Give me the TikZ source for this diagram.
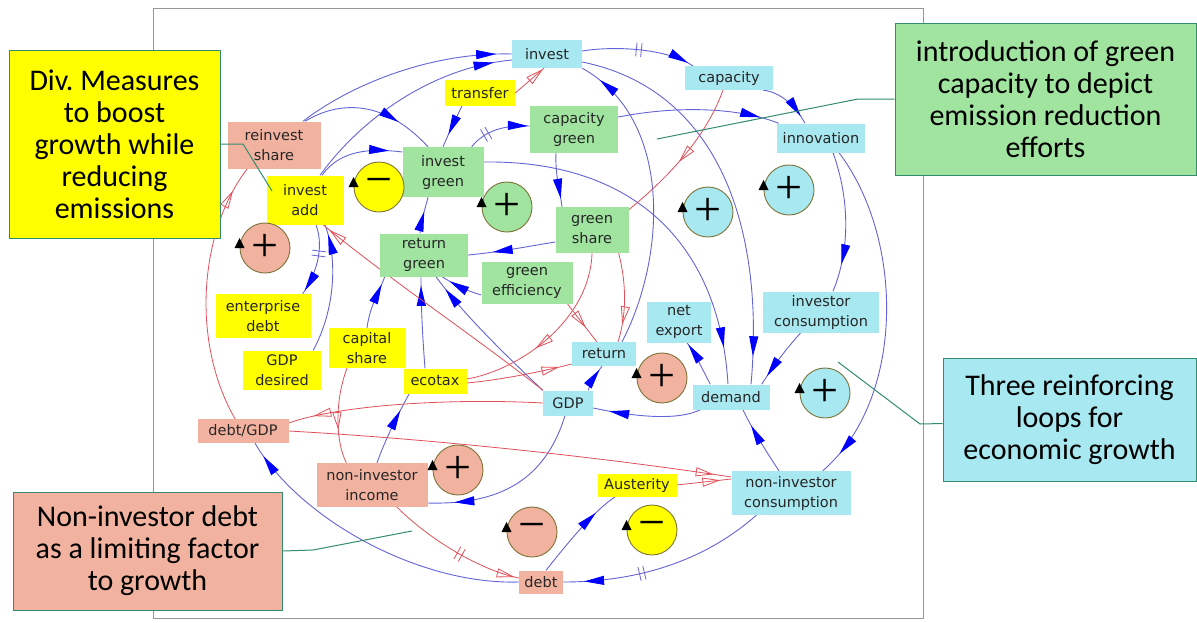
\documentclass[tikz,border=0pt]{standalone}
\usepackage{fontspec}
\usetikzlibrary{arrows.meta,decorations.markings,calc}
\newfontfamily\labfont{DejaVu Sans}
\newfontfamily\calfont{Carlito}
\newfontfamily\sgnfont{Liberation Serif}
\definecolor{ccyan}{RGB}{168,232,240}
\definecolor{cgreen}{RGB}{160,228,160}
\definecolor{csalmon}{RGB}{242,178,160}
\definecolor{cyell}{RGB}{255,255,0}
\definecolor{lblue}{RGB}{100,100,215}
\definecolor{ablue}{RGB}{0,0,255}
\definecolor{lred}{RGB}{225,80,90}
\definecolor{cteal}{RGB}{50,140,110}
\definecolor{cbord}{RGB}{125,115,55}
\definecolor{frameg}{RGB}{150,150,150}
\pgfdeclarelayer{bg}
\pgfsetlayers{bg,main}
\begin{document}
\begin{tikzpicture}[x=1pt,y=-1pt,
  box/.style={align=center, inner sep=0pt, text=black!85, font=\labfont\fontsize{14.5}{20}\selectfont},
  sz/.style 2 args={minimum width=#1pt, minimum height=#2pt},
  cy/.style={box, fill=ccyan},
  gr/.style={box, fill=cgreen},
  sa/.style={box, fill=csalmon},
  ye/.style={box, fill=cyell},
  call/.style={draw=cteal, line width=1pt, align=center, inner sep=0pt, text=black, font=\calfont\fontsize{30}{32}\selectfont},
  loopc/.style={circle, draw=cbord, line width=0.9pt, minimum size=50pt, inner sep=0pt, font=\sgnfont\fontsize{48}{48}\selectfont},
  bl/.style={draw=lblue, line width=0.9pt},
  rl/.style={draw=lred, line width=0.8pt},
  ba/.style={postaction={decorate,decoration={markings,mark=at position #1 with {\arrow[ablue]{Triangle[length=20pt,width=9pt]}}}}},
  ra/.style={postaction={decorate,decoration={markings,mark=at position #1 with {\arrow[lred,line width=0.8pt]{Triangle[open,length=18pt,width=9pt]}}}}},
  bd/.style={postaction={decorate,decoration={markings,mark=at position #1 with {\draw[lblue,line width=0.8pt] (-2.5,-7)--(-2.5,7) (2.5,-7)--(2.5,7);}}}},
  rd/.style={postaction={decorate,decoration={markings,mark=at position #1 with {\draw[lred,line width=0.8pt] (-2.5,-7)--(-2.5,7) (2.5,-7)--(2.5,7);}}}},
  conn/.style={draw=cteal, line width=1pt},
  tri/.style={fill=black}
]
\useasboundingbox (0,0) rectangle (1197,622);
\begin{pgfonlayer}{bg}
\fill[white] (0,0) rectangle (1197,622);
\draw[frameg, line width=0.8pt] (153,8) rectangle (923,618);
\end{pgfonlayer}

% variables
\node[cy,sz={70}{28}] (inv) at (547,54) {invest};
\node[cy,sz={88}{24}] (cap) at (729,78) {capacity};
\node[cy,sz={88}{29}] (inn) at (821,138) {innovation};
\node[ye,sz={70}{26}] (tr) at (480,93) {transfer};
\node[gr,sz={88}{47}] (cg) at (574,129) {capacity\\green};
\node[gr,sz={81}{50}] (ig) at (443,172) {invest\\green};
\node[sa,sz={93}{47}] (rs) at (274,145) {reinvest\\share};
\node[ye,sz={77}{49}] (ia) at (305,200) {invest\\add};
\node[gr,sz={73}{46}] (gs) at (592,230) {green\\share};
\node[gr,sz={88}{43}] (rg) at (424,255) {return\\green};
\node[gr,sz={91}{42}] (ge) at (527,283) {green\\efficiency};
\node[cy,sz={64}{24}] (ret) at (604,354) {return};
\node[cy,sz={50}{25}] (gdp) at (568,403) {GDP};
\node[ye,sz={63}{25}] (eco) at (435,381) {ecotax};
\node[ye,sz={77}{40}] (cs) at (367,348) {capital\\share};
\node[ye,sz={95}{44}] (ed) at (263,316) {enterprise\\debt};
\node[ye,sz={78}{39}] (gd) at (282,370) {GDP\\desired};
\node[cy,sz={64}{41}] (ne) at (679,322) {net\\export};
\node[cy,sz={77}{25}] (dem) at (731,397) {demand};
\node[cy,sz={116}{41}] (ic) at (821,312) {investor\\consumption};
\node[sa,sz={91}{24}] (dg) at (243,431) {debt/GDP};
\node[sa,sz={111}{44}] (nii) at (372,485) {non-investor\\income};
\node[ye,sz={79}{23}] (aus) at (637,485) {Austerity};
\node[sa,sz={44}{23}] (debt) at (541,582) {debt};
\node[cy,sz={119}{44}] (nic) at (791,493) {non-investor\\consumption};

% loop markers
\node[loopc,fill=csalmon] (L1) at (265,248) {+};
\node[loopc,fill=cyell] (L2) at (379,187) {−};
\node[loopc,fill=cgreen] (L3) at (507,207) {+};
\node[loopc,fill=ccyan] (L4) at (708,212) {+};
\node[loopc,fill=ccyan] (L5) at (789,190) {+};
\node[loopc,fill=csalmon] (L6) at (662,378) {+};
\node[loopc,fill=ccyan] (L7) at (825,393) {+};
\node[loopc,fill=csalmon] (L8) at (458,470) {+};
\node[loopc,fill=csalmon] (L9) at (532,532) {−};
\node[loopc,fill=cyell] (L10) at (652,530) {−};
\foreach \l in {L1,L2,L3,L4,L5,L6,L7,L8,L9,L10}
  \fill[tri] ($(\l.west)+(-5,0)$) -- ++(10,0) -- ++(-5,-10) -- cycle;

% connectors
\begin{pgfonlayer}{bg}
\draw[bl,ba=0.93] ($(rs.north)+(29,0)$) .. controls (350,85) and (430,52) .. (inv.west);
\draw[bl,ba=0.92] ($(ia.north)+(15,0)$) .. controls (360,120) and (430,68) .. ($(inv.west)+(0,6)$);
\draw[bl,ba=0.72] ($(rs.north)+(31,0)$) .. controls (340,100) and (385,100) .. ($(ig.north)+(-15,0)$);
\draw[bl,ba=0.85] ($(ia.north)+(17,0)$) .. controls (340,150) and (370,148) .. ($(ig.west)+(0,-20)$);
\draw[bl,ba=0.7] ($(tr.south)+(-18,0)$) .. controls (455,120) and (448,135) .. (ig.north);
\draw[bl,bd=0.5,ba=0.95] ($(inv.east)+(0,-3)$) .. controls (620,45) and (670,50) .. ($(cap.north west)+(8,0)$);
\draw[bl,bd=0.3,ba=0.97] ($(ig.north east)+(-12,0)$) .. controls (485,130) and (505,125) .. ($(cg.west)+(0,-3)$);
\draw[bl,ba=0.85] ($(cap.south east)+(-10,0)$) .. controls (780,92) and (795,105) .. ($(inn.north)+(-16,0)$);
\draw[bl,ba=0.88] ($(cg.east)+(0,-12)$) .. controls (680,105) and (740,108) .. ($(inn.north west)+(2,0)$);
\draw[bl,ba=0.85] ($(cg.south)+(-18,0)$) .. controls (555,175) and (560,190) .. ($(gs.north)+(-30,0)$);
\draw[bl,ba=0.72] ($(gs.west)+(0,12)$) .. controls (530,246) and (500,252) .. (rg.east);
\draw[bl,ba=0.8] ($(ge.west)+(0,12)$) .. controls (470,292) and (455,285) .. ($(rg.south)+(18,0)$);
\draw[bl,ba=0.9] (gdp.north west) .. controls (500,350) and (460,310) .. ($(rg.south)+(12,0)$);
\draw[bl,ba=0.9] ($(eco.north)+(-10,0)$) .. controls (422,330) and (421,300) .. ($(rg.south)+(-3,0)$);
\draw[bl,ba=0.85] (cs.north) .. controls (370,305) and (380,290) .. ($(rg.south west)+(5,0)$);
\draw[bl,ba=0.6] ($(rg.north)+(-4,0)$) .. controls (421,220) and (425,210) .. ($(ig.south)+(-15,0)$);
\draw[bl,ba=0.93] ($(ret.north)+(18,0)$) .. controls (665,260) and (675,120) .. (inv.south east);
\draw[bl,ba=0.85] ($(gdp.north east)+(-5,0)$) .. controls (592,380) .. ($(ret.south)+(-2,0)$);
\draw[bl,ba=0.85] ($(dem.south west)+(8,0)$) .. controls (680,420) and (640,418) .. ($(gdp.east)+(0,5)$);
\draw[bl,ba=0.95] ($(dem.north west)+(18,0)$) .. controls (702,368) and (694,352) .. ($(ne.south)+(8,0)$);
\draw[bl,ba=0.93] ($(inv.east)+(0,8)$) .. controls (720,90) and (765,230) .. ($(dem.north)+(20,0)$);
\draw[bl,ba=0.9] ($(ig.east)+(0,-10)$) .. controls (640,160) and (720,250) .. ($(dem.north)+(-3,0)$);
\draw[bl,ba=0.85] ($(ic.south west)+(38,0)$) .. controls (785,350) and (772,368) .. ($(dem.north east)+(-8,0)$);
\draw[bl,ba=0.8] ($(inn.south)+(12,0)$) .. controls (850,200) and (850,250) .. ($(ic.north)+(12,0)$);
\draw[bl,ba=0.93] ($(inn.south)+(18,0)$) .. controls (905,240) and (905,400) .. ($(nic.north east)+(-28,0)$);
\draw[bl,ba=0.75] ($(nic.north)+(-12,0)$) .. controls (765,450) and (750,425) .. ($(dem.south)+(12,0)$);
\draw[bl,bd=0.62,ba=0.9] ($(nic.south west)+(25,0)$) .. controls (700,565) and (630,582) .. (debt.east);
\draw[bl,ba=0.75] ($(debt.north)+(5,0)$) .. controls (570,540) and (595,510) .. ($(aus.south west)+(18,0)$);
\draw[bl,ba=0.95] (debt.west) .. controls (420,585) and (300,520) .. ($(dg.south)+(12,0)$);
\draw[bl,ba=0.85] ($(gdp.south)+(-3,0)$) .. controls (545,480) and (500,505) .. ($(nii.east)+(0,18)$);
\draw[bl,ba=0.75] ($(nii.north)+(5,0)$) .. controls (385,440) and (400,410) .. ($(eco.south west)+(6,0)$);
\draw[bl,ba=0.92] ($(gd.north east)+(-8,0)$) .. controls (335,310) and (338,260) .. ($(ia.south)+(20,0)$);
\draw[bl,bd=0.4,ba=0.95] ($(ia.south)+(11,0)$) .. controls (325,250) and (315,275) .. ($(ed.north east)+(-8,0)$);
% red links
\draw[rl,ra=0.9] ($(dg.north)+(-8,0)$) .. controls (190,340) and (200,230) .. ($(rs.south west)+(20,0)$);
\draw[rl,ra=0.97] (gdp.north west) .. controls (480,340) and (390,280) .. ($(ia.south)+(18,0)$);
\draw[rl,ra=0.9] (gdp.west) .. controls (450,398) and (340,405) .. ($(dg.east)+(0,-8)$);
\draw[rl,ra=0.96] (dg.east) .. controls (450,440) and (620,460) .. ($(nic.west)+(0,-16)$);
\draw[rl,ra=0.8] (aus.east) -- ($(nic.west)+(0,-14)$);
\draw[rl,rd=0.55,ra=0.97] ($(nii.south)+(25,0)$) .. controls (430,540) and (480,570) .. ($(debt.west)+(0,-4)$);
\draw[rl,ra=0.65] ($(cs.south)+(-20,0)$) .. controls (335,400) and (335,440) .. ($(nii.north west)+(30,0)$);
\draw[rl,ra=0.88] ($(eco.east)+(0,2)$) .. controls (500,380) and (540,372) .. ($(ret.west)+(0,10)$);
\draw[rl,ra=0.6] (gs.south) .. controls (590,320) and (520,370) .. ($(eco.east)+(0,-2)$);
\draw[rl,ra=0.8] ($(gs.south east)+(-10,0)$) .. controls (628,290) and (625,320) .. ($(ret.north)+(14,0)$);
\draw[rl,ra=0.62] ($(ge.south east)+(-5,0)$) -- ($(ret.north west)+(25,0)$);
\draw[rl,ra=0.55] ($(cap.south)+(-6,0)$) .. controls (705,140) and (665,180) .. ($(gs.north east)+(0,3)$);
\draw[rl,ra=0.97] (tr.east) -- ($(inv.south)+(-3,0)$);
\end{pgfonlayer}

% callouts
\node[call, fill=cyell, minimum width=211pt, minimum height=188pt] (cY) at (114.5,144) {Div.\ Measures\\to boost\\growth while\\reducing\\emissions};
\node[call, fill=cgreen, minimum width=301pt, minimum height=152pt] (cG) at (1045.5,99) {introduction of green\\capacity to depict\\emission reduction\\efforts};
\node[call, fill=ccyan, minimum width=253pt, minimum height=123pt] (cC) at (1069.5,419.5) {Three reinforcing\\loops for\\economic growth};
\node[call, fill=csalmon, minimum width=269pt, minimum height=118pt] (cS) at (147.5,551) {Non-investor debt\\as a limiting factor\\to growth};
\coordinate (eY) at (272,191);
\coordinate (eG) at (657,139);
\coordinate (eC) at (838,362);
\coordinate (eS) at (412,531);
\draw[conn] (cY.east) -- (243,144) -- (eY);
\draw[conn] (cG.west) -- (858,99) -- (eG);
\draw[conn] ($(cC.west)+(0,4)$) -- (920,424) -- (eC);
\draw[conn] (cS.east) -- (313,550) -- (eS);
\end{tikzpicture}
\end{document}
